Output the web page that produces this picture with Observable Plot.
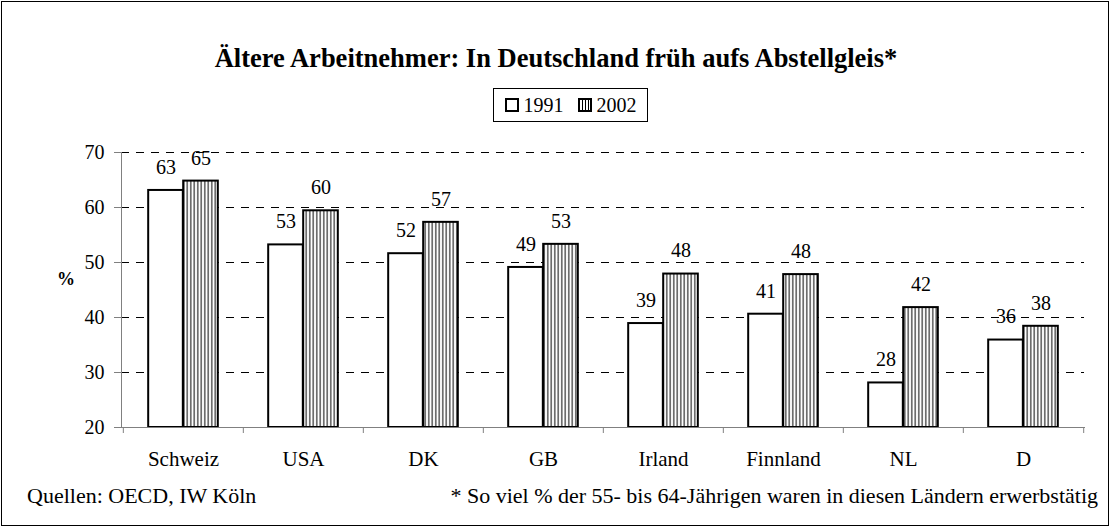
<!DOCTYPE html>
<html>
<head>
<meta charset="utf-8">
<script src="https://cdn.jsdelivr.net/npm/d3@7"></script>
<script src="https://cdn.jsdelivr.net/npm/@observablehq/plot@0.6"></script>
<style>
  html, body { margin: 0; padding: 0; background: #fff; }
  #wrap { position: relative; width: 1112px; height: 529px; font-family: "Liberation Serif", "Times New Roman", serif; color: #000; overflow: hidden; }
  #border { position: absolute; left: 1px; top: 1px; width: 1108px; height: 525px; border: 1px solid #000; box-sizing: border-box; }
  #title { position: absolute; left: 0; width: 1112px; top: 45px; text-align: center; font-weight: bold; font-size: 26.5px; line-height: 26.5px; white-space: nowrap; }
  #legend { position: absolute; left: 493px; top: 88px; width: 155px; height: 34px; border: 1px solid #000; box-sizing: border-box; display: flex; align-items: center; justify-content: center; font-size: 20px; line-height: 20px; }
  .sw { display: inline-block; width: 14px; height: 14px; border: 2px solid #000; box-sizing: border-box; margin-right: 5px; }
  .sw.s2 { background: repeating-linear-gradient(90deg, #fff 0 2px, #000 2px 3px); }
  .item { display: flex; align-items: center; }
  .item + .item { margin-left: 14px; }
  #ylab { position: absolute; left: 57px; top: 270px; font-weight: bold; font-size: 18px; line-height: 18px; }
  #chart { position: absolute; left: 0; top: 130px; }
  .foot { position: absolute; top: 485px; font-size: 22px; line-height: 22px; white-space: nowrap; }
  #f1 { left: 27px; }
  #f2 { right: 14px; }
</style>
</head>
<body>
<div id="wrap">
  <div id="title">Ältere Arbeitnehmer: In Deutschland früh aufs Abstellgleis*</div>
  <div id="legend"></div>
  <div id="ylab">%</div>
  <div id="chart"></div>
  <div class="foot" id="f1">Quellen: OECD, IW Köln</div>
  <div class="foot" id="f2">* So viel % der 55- bis 64-Jährigen waren in diesen Ländern erwerbstätig</div>
  <div id="border"></div>
</div>
<script>
const countries = ["Schweiz", "USA", "DK", "GB", "Irland", "Finnland", "NL", "D"];
const years = ["1991", "2002"];
const values1991 = [63.1, 53.2, 51.6, 49.1, 38.9, 40.6, 28.1, 35.9];
const values2002 = [64.8, 59.4, 57.3, 53.3, 47.9, 47.8, 41.8, 38.4];
const labels1991 = [63, 53, 52, 49, 39, 41, 28, 36];
const labels2002 = [65, 60, 57, 53, 48, 48, 42, 38];
const yDomain = [20, 70];
const yTicks = [20, 30, 40, 50, 60, 70];

// legend
const legend = document.getElementById("legend");
years.forEach((y, i) => {
  const it = document.createElement("span");
  it.className = "item";
  it.innerHTML = `<span class="sw ${i ? "s2" : ""}"></span><span>${y}</span>`;
  legend.appendChild(it);
});

const rows = [];
countries.forEach((c, i) => {
  rows.push({country: c, year: years[0], value: values1991[i], label: labels1991[i]});
  rows.push({country: c, year: years[1], value: values2002[i], label: labels2002[i]});
});
const r1991 = rows.filter(d => d.year === years[0]);
const r2002 = rows.filter(d => d.year === years[1]);

const W = 1112, H = 345;
const mL = 121, mR = 28, mT = 22, mB = 48;
const step = (W - mL - mR) / countries.length;
const half = step / 2;
const bw = 35;

function defs() {
  const g = document.createElementNS("http://www.w3.org/2000/svg", "defs");
  g.innerHTML = `<pattern id="stripes" patternUnits="userSpaceOnUse" width="3.5" height="10">
      <rect width="3.5" height="10" fill="#fff"/>
      <rect x="1.25" width="1" height="10" fill="#000"/>
    </pattern>`;
  return g;
}

const chart = Plot.plot({
  width: W,
  height: H,
  marginLeft: mL,
  marginRight: mR,
  marginTop: mT,
  marginBottom: mB,
  style: {fontFamily: "'Liberation Serif', 'Times New Roman', serif", fontSize: "20px", background: "transparent", color: "#000"},
  x: {domain: countries, padding: 0, axis: null},
  y: {domain: yDomain, axis: null},
  marks: [
    defs,
    Plot.ruleY(yTicks.slice(1), {stroke: "#000", strokeWidth: 1, strokeDasharray: "8,7"}),
    Plot.barY(r1991, {x: "country", y1: () => yDomain[0], y2: "value", fill: "#fff", stroke: "#000", strokeWidth: 2, insetLeft: half - bw, insetRight: half}),
    Plot.barY(r2002, {x: "country", y1: () => yDomain[0], y2: "value", fill: "url(#stripes)", stroke: "#000", strokeWidth: 2, insetLeft: half, insetRight: half - bw}),
    Plot.text(r1991, {x: "country", y: "value", text: "label", dx: -bw / 2, dy: -23, fontSize: 20}),
    Plot.text(r2002, {x: "country", y: "value", text: "label", dx: bw / 2, dy: -23, fontSize: 20}),
    Plot.frame({anchor: "left", stroke: "#808080"}),
    Plot.frame({anchor: "bottom", stroke: "#808080"}),
    Plot.axisY({ticks: yTicks, tickSize: 7, tickPadding: 10, stroke: "#808080", fill: "#000", fontSize: 20, label: null}),
    Plot.axisX({tickSize: 0, tickPadding: 24, fill: "#000", fontSize: 21, label: null}),
    Plot.axisX({tickSize: 6, tickFormat: () => "", stroke: "#808080", dx: -half, label: null}),
    Plot.axisX({ticks: countries.slice(-1), tickSize: 6, tickFormat: () => "", stroke: "#808080", dx: half, label: null})
  ]
});
document.getElementById("chart").appendChild(chart);
</script>
</body>
</html>
